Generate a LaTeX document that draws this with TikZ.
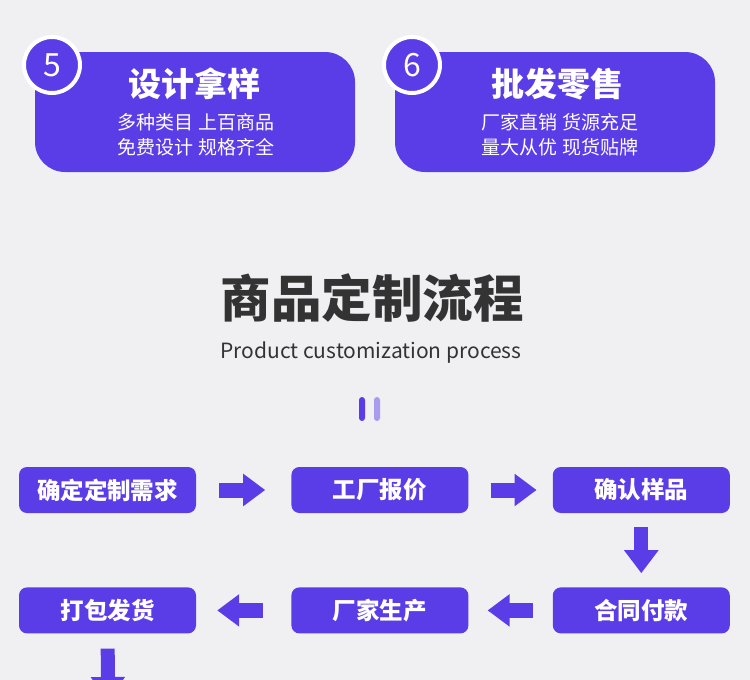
\documentclass[tikz,border=0pt]{standalone}
\usepackage{fontspec}
\setmainfont{Noto Sans CJK SC}
\usetikzlibrary{arrows.meta, positioning}

\definecolor{brandpurple}{HTML}{5A3DE6}
\definecolor{lightpurple}{HTML}{A99BEF}
\definecolor{pagegray}{HTML}{F0F0F2}
\definecolor{titlegray}{HTML}{333333}

\begin{document}
\begin{tikzpicture}[
    x=1pt, y=-1pt,
    % Styles for cards, steps and arrows
    card/.style={fill=brandpurple, rounded corners=30pt, minimum width=320pt, minimum height=120pt, inner sep=0pt},
    badge/.style={circle, fill=brandpurple, draw=white, line width=4pt, minimum size=56pt, inner sep=0pt, text=white, font=\fontsize{32}{32}\selectfont},
    cardtitle/.style={text=white, font=\fontsize{33}{33}\selectfont\bfseries},
    cardtext/.style={text=white, font=\fontsize{19}{19}\selectfont},
    bar/.style={rounded corners=3pt, minimum width=6pt, minimum height=24pt, inner sep=0pt},
    stepbox/.style={fill=brandpurple, rounded corners=8pt, minimum width=177pt, minimum height=46pt, inner sep=0pt, text=white, font=\fontsize{23.5}{23.5}\selectfont\bfseries},
    flow/.style={-{Triangle[length=22pt, width=31pt]}, line width=15pt, brandpurple},
    flowdown/.style={-{Triangle[length=23pt, width=33pt]}, line width=14pt, brandpurple}
]

    \useasboundingbox (0,0) rectangle (750,680);
    \fill[pagegray] (0,0) rectangle (750,680);

    % --- TOP CARDS ---
    \node[card] (card5) at (195,112) {};
    \node[badge] (badge5) at (52,65) {5};
    \node[cardtitle] (title5) at (194,84) {设计拿样};
    \node[cardtext] (line5a) at (196,122) {多种类目\hspace{6pt}上百商品};
    \node[cardtext] (line5b) at (196,147) {免费设计\hspace{6pt}规格齐全};

    \node[card] (card6) at (555,112) {};
    \node[badge] (badge6) at (412,65) {6};
    \node[cardtitle] (title6) at (557,84) {批发零售};
    \node[cardtext] (line6a) at (560,122) {厂家直销\hspace{6pt}货源充足};
    \node[cardtext] (line6b) at (560,147) {量大从优\hspace{6pt}现货贴牌};

    % --- HEADING ---
    \node[text=titlegray, font=\fontsize{50.5}{50.5}\selectfont\bfseries] (heading) at (372,298) {商品定制流程};
    \node[text=titlegray, font=\fontsize{21}{21}\selectfont] (subheading) at (371,353) {Product customization process};
    \node[bar, fill=brandpurple] (bar1) at (362,409) {};
    \node[bar, fill=lightpurple] (bar2) at (377,409) {};

    % --- STEPS ---
    % First row, left to right
    \node[stepbox] (need) at (107.5,490) {确定定制需求};
    \node[stepbox, right=95pt of need] (quote) {工厂报价};
    \node[stepbox, right=84pt of quote] (sample) {确认样品};
    % Second row, right to left
    \node[stepbox, below=74pt of sample] (contract) {合同付款};
    \node[stepbox, left=84pt of contract] (produce) {厂家生产};
    \node[stepbox, left=95pt of produce] (ship) {打包发货};
    \coordinate (next) at (108,700);

    % --- ARROWS ---
    \draw[flow, shorten <=23pt, shorten >=26pt] (need) -- (quote);
    \draw[flow, shorten <=22pt, shorten >=16pt] (quote) -- (sample);
    \draw[flowdown, shorten <=14pt, shorten >=14pt] (sample) -- (contract);
    \draw[flow, shorten <=20pt, shorten >=19pt] (contract) -- (produce);
    \draw[flow, shorten <=28pt, shorten >=21pt] (produce) -- (ship);
    \draw[flowdown, shorten <=15pt] (ship) -- (next);

\end{tikzpicture}
\end{document}
